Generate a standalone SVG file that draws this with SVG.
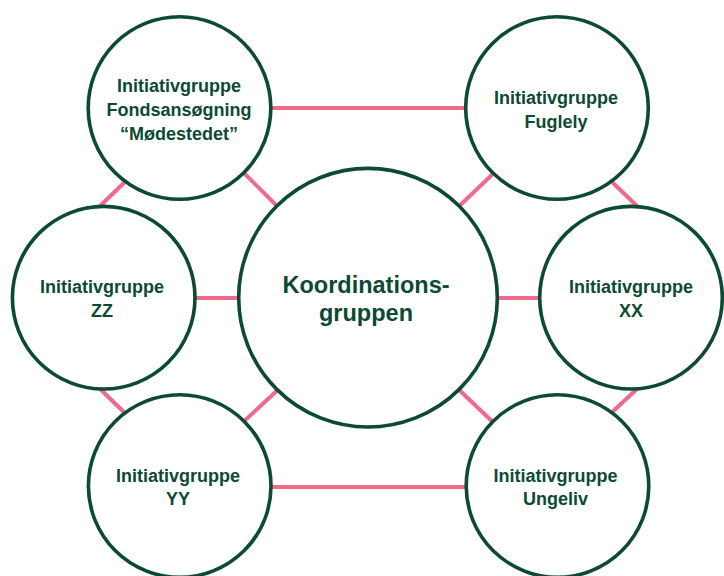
<svg xmlns="http://www.w3.org/2000/svg" width="724" height="576" viewBox="0 0 724 576">
<style>
.bg{fill:#ffffff}
.conn line{stroke:#ef6b87;stroke-width:4;fill:none}
.node circle{fill:#ffffff;stroke:#0c4a33;stroke-width:3.6}
.node text{fill:#0c4a33;font-family:"Liberation Sans",Arial,sans-serif;font-weight:bold;font-size:18px;text-anchor:middle}
#center text{font-size:23.5px}
</style>
<rect class="bg" x="0" y="0" width="724" height="576"/>
<g id="connectors" class="conn">
<line x1="260" y1="108" x2="480" y2="108"/>
<line x1="240" y1="169" x2="285" y2="214"/>
<line x1="128" y1="179" x2="98" y2="208"/>
<line x1="496" y1="171" x2="455" y2="210"/>
<line x1="609" y1="179" x2="639" y2="208"/>
<line x1="190" y1="298" x2="245" y2="298"/>
<line x1="490" y1="298" x2="545" y2="298"/>
<line x1="98" y1="387" x2="128" y2="416"/>
<line x1="240" y1="425" x2="282" y2="386"/>
<line x1="455" y1="386" x2="497" y2="426"/>
<line x1="608" y1="416" x2="638" y2="388"/>
<line x1="265" y1="487" x2="470" y2="487"/>
</g>
<g id="center" class="node">
<circle cx="368" cy="297.7" r="129.3"/>
<text x="366" y="292.7">Koordinations-</text>
<text x="366" y="321">gruppen</text>
</g>
<g id="fondsansogning" class="node">
<circle cx="179.5" cy="108" r="91.3"/>
<text x="179" y="92.3">Initiativgruppe</text>
<text x="179" y="116">Fondsansøgning</text>
<text x="179" y="139.5">“Mødestedet”</text>
</g>
<g id="fuglely" class="node">
<circle cx="557" cy="108" r="91.3"/>
<text x="556" y="103.5">Initiativgruppe</text>
<text x="556" y="127.5">Fuglely</text>
</g>
<g id="zz" class="node">
<circle cx="103.7" cy="297.7" r="91.3"/>
<text x="102" y="293.3">Initiativgruppe</text>
<text x="102" y="316.7">ZZ</text>
</g>
<g id="xx" class="node">
<circle cx="631" cy="297.7" r="91.3"/>
<text x="631" y="293.3">Initiativgruppe</text>
<text x="631" y="316.7">XX</text>
</g>
<g id="yy" class="node">
<circle cx="179.7" cy="486" r="91.3"/>
<text x="178" y="482">Initiativgruppe</text>
<text x="178" y="505.3">YY</text>
</g>
<g id="ungeliv" class="node">
<circle cx="557.5" cy="486" r="91.3"/>
<text x="555.5" y="482">Initiativgruppe</text>
<text x="555.5" y="505.3">Ungeliv</text>
</g>
</svg>
